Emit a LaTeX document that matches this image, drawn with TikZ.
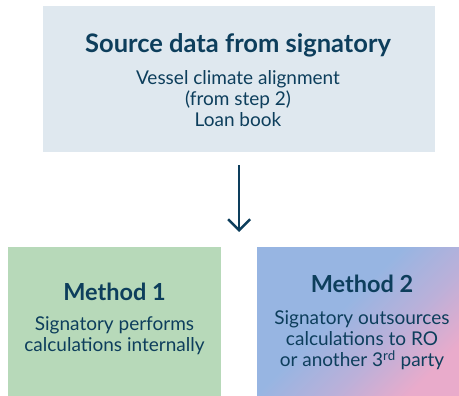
\documentclass[tikz,border=0pt]{standalone}
\usepackage{fontspec}
\setmainfont{Lato}
\usetikzlibrary{arrows.meta}
\definecolor{ink}{HTML}{0D3E5C}
\definecolor{topfill}{HTML}{DFE8EF}
\definecolor{greenfill}{HTML}{B7D9B9}
\definecolor{mblue}{HTML}{97B5E2}
\definecolor{mpurple}{HTML}{BBB0D9}
\definecolor{mpink}{HTML}{E9ABCB}
\pgfdeclarehorizontalshading{mtwo}{100bp}{color(0bp)=(mblue); color(25bp)=(mblue); color(44bp)=(mblue); color(60bp)=(mpurple); color(75bp)=(mpink); color(100bp)=(mpink)}
\tikzset{
  box/.style={draw=none, inner sep=0pt, anchor=north west},
  ttl/.style={font=\fontsize{23.5}{28}\selectfont\bfseries, text=ink, anchor=base, inner sep=0pt},
  bdy/.style={font=\fontsize{19}{21}\selectfont, text=ink, anchor=base, inner sep=0pt, align=center},
  arr/.style={draw=ink, line width=2.5pt, -{Straight Barb[length=11pt,width=22pt]}}
}
\begin{document}
\begin{tikzpicture}[x=1pt,y=-1pt]
\useasboundingbox (0,0) rectangle (459,396);
\node[box, fill=topfill, minimum width=392pt, minimum height=146pt] (top) at (43,6) {};
\node[box, fill=greenfill, minimum width=213pt, minimum height=149pt] (m1) at (8,247) {};
\node[box, shading=mtwo, shading angle=-45, minimum width=202pt, minimum height=149pt] (m2) at (257,247) {};
\node[ttl, font=\fontsize{25.5}{30}\selectfont\bfseries] (toptitle) at (238,53) {Source data from signatory};
\node[bdy] (topbody) at (238,127) {Vessel climate alignment\\(from step 2)\\Loan book};
\node[ttl] (m1title) at (114.5,301) {Method 1};
\node[bdy] (m1body) at (114.5,352) {Signatory performs\\calculations internally};
\node[ttl] (m2title) at (362,293) {Method 2};
\node[bdy] (m2body) at (362,366.5) {Signatory outsources\\calculations to RO\\or another 3\textsuperscript{rd} party};
\draw[arr, shorten <=13pt, shorten >=15pt] (top.south) -- (top.south |- m1.north);
\end{tikzpicture}
\end{document}
